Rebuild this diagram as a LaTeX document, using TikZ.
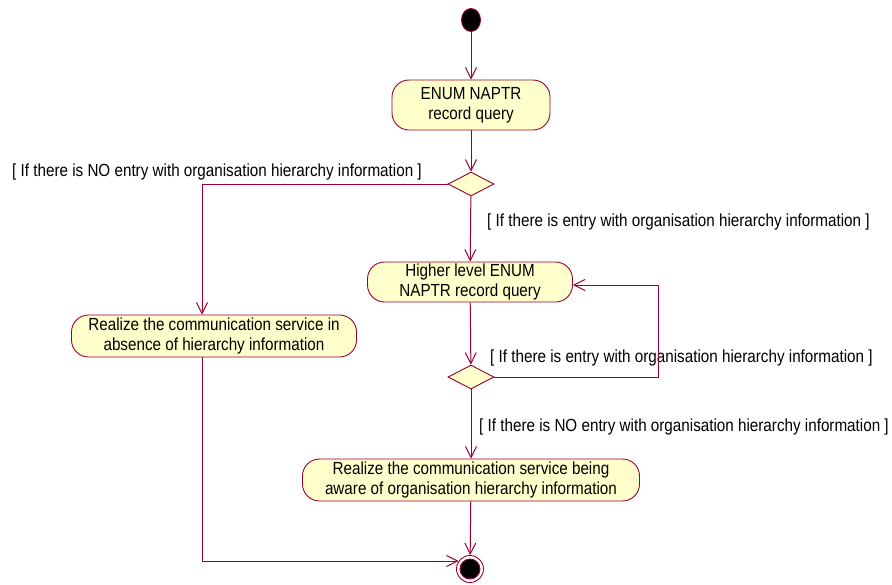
\documentclass[tikz,border=0pt]{standalone}
\usepackage{fontspec}
\setmainfont{Liberation Sans}[FakeStretch=0.87]
\usepackage{xcolor}
\usetikzlibrary{shapes.geometric, arrows.meta, positioning}
\definecolor{umlline}{RGB}{150,0,50}
\definecolor{umlfill}{RGB}{255,255,204}

\begin{document}
\begin{tikzpicture}[x=1pt, y=-1pt,
    act/.style={rectangle, draw=umlline, fill=umlfill, rounded corners=17pt,
                align=center, font=\fontsize{17.5}{20}\selectfont, inner sep=0pt,
                line width=0.9pt},
    choice/.style={diamond, draw=umlline, fill=umlfill, inner sep=0pt,
                   minimum width=46pt, minimum height=24pt, line width=0.9pt},
    guard/.style={anchor=west, font=\fontsize{17.5}{20}\selectfont, inner sep=0pt},
    arrow/.style={-{Straight Barb[length=11pt, width=11pt]}, draw=umlline,
                  line width=1pt}]
  \useasboundingbox (0,0) rectangle (892,584);
  \node[ellipse, draw=umlline, fill=black, minimum width=19pt, minimum height=23pt,
        inner sep=0pt, line width=0.9pt] (start) at (471,20) {};
  \node[act, minimum width=158pt, minimum height=50pt] (enum) at (471,105)
        {ENUM NAPTR\\record query};
  \node[choice] (dec1) at (471,184) {};
  \node[act, minimum width=285pt, minimum height=42pt] (absent) at (214,336)
        {Realize the communication service in\\absence of hierarchy information};
  \node[act, minimum width=205pt, minimum height=40pt] (higher) at (470,282)
        {Higher level ENUM\\NAPTR record query};
  \node[choice] (dec2) at (471,377) {};
  \node[act, minimum width=337pt, minimum height=42pt] (aware) at (471,480)
        {Realize the communication service being\\aware of organisation hierarchy information};
  \node[circle, draw=umlline, fill=white, minimum size=27pt, inner sep=0pt,
        line width=0.9pt,
        path picture={\fill[black, draw=umlline] (path picture bounding box.center) circle (10pt);}]
        (final) at (470,569) {};
  % guards
  \node[guard] (gnone1) at (12,172) {[ If there is NO entry with organisation hierarchy information ]};
  \node[guard] (gyes1) at (487,222) {[ If there is entry with organisation hierarchy information ]};
  \node[guard] (gyes2) at (490,358) {[ If there is entry with organisation hierarchy information ]};
  \node[guard] (gnone2) at (479,427) {[ If there is NO entry with organisation hierarchy information ]};
  % flows
  \draw[arrow] (start) -- (enum);
  \draw[arrow] (enum) -- (dec1);
  \draw[arrow] (dec1.west) -| ([xshift=-12pt]absent.north);
  \draw[arrow] (dec1) -- (higher);
  \draw[arrow] (higher) -- (dec2);
  \draw[arrow] (dec2.east) -- ++(164,0) |- ([yshift=-3pt]higher.east);
  \draw[arrow] (dec2) -- (aware);
  \draw[arrow] (aware) -- (final);
  \draw[arrow] ([xshift=-12pt]absent.south) |- (final.145);
\end{tikzpicture}
\end{document}
